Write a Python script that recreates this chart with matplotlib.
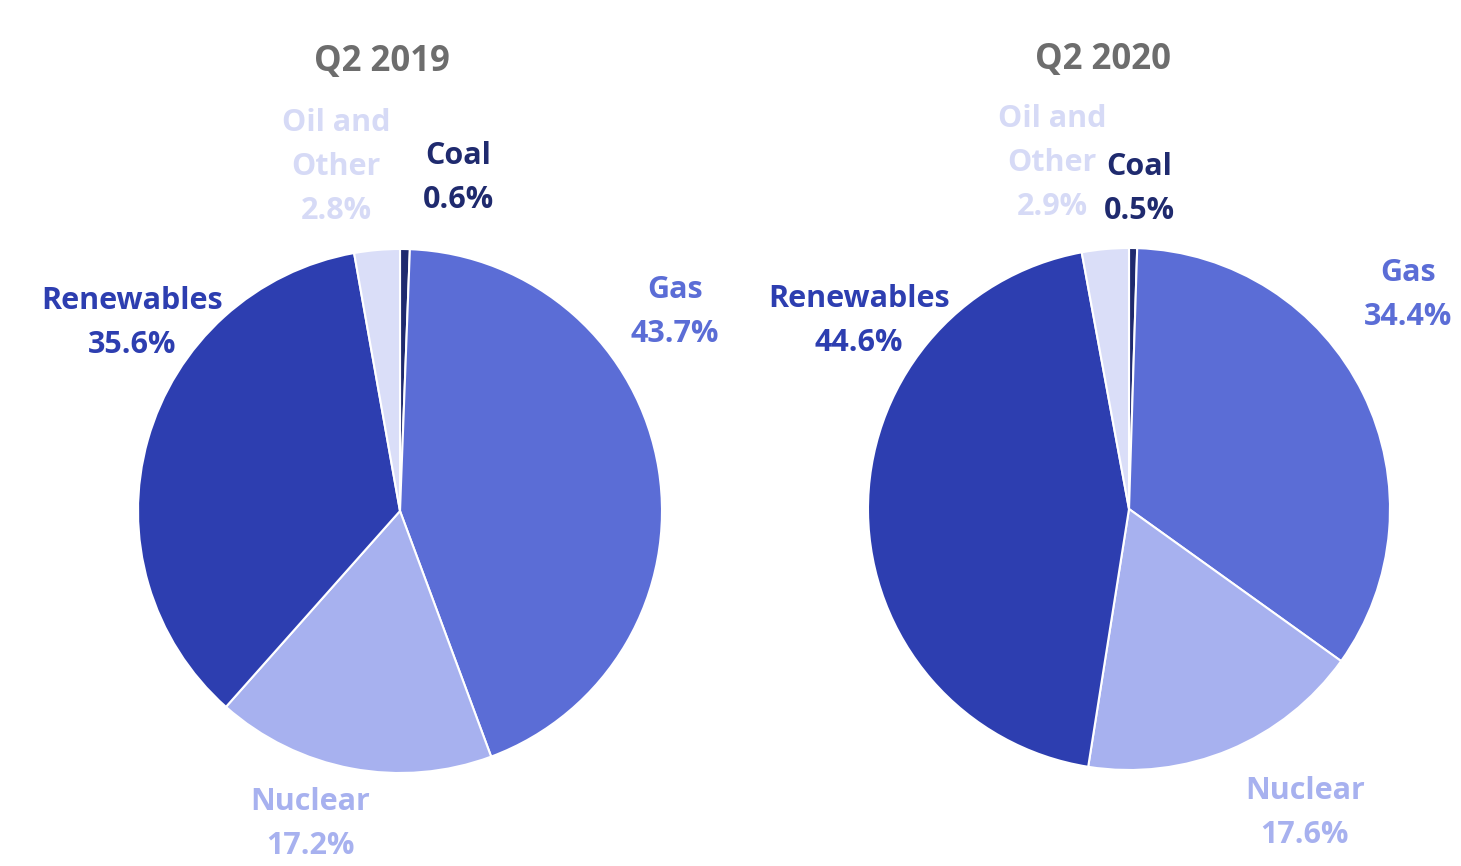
import matplotlib.pyplot as plt

# data
periods = ["Q2 2019", "Q2 2020"]
sources = ["Coal", "Gas", "Nuclear", "Renewables", "Oil and\nOther"]
shares_2019 = [0.6, 43.7, 17.2, 35.6, 2.8]
shares_2020 = [0.5, 34.4, 17.6, 44.6, 2.9]

slice_colors = ["#1f2a6e", "#5b6dd6", "#a7b1ef", "#2d3eb0", "#dadef8"]
label_colors = ["#1f2a6e", "#5b6dd6", "#a7b1ef", "#2d3eb0", "#d6daf6"]

W, H = 1461, 866
plt.rcParams['font.family'] = ['Open Sans', 'DejaVu Sans']

fig = plt.figure(figsize=(W / 100, H / 100), dpi=100)
ax = fig.add_axes([0, 0, 1, 1])
ax.set_xlim(0, W)
ax.set_ylim(0, H)
ax.set_aspect('equal')
ax.axis('off')

# layout in pixel space (y measured from top)
pies = [
    dict(center=(400, 511), radius=262, title=(382, 62),
         labels=[(458, 178), (675, 312), (310, 824), (132, 323), (336, 167)]),
    dict(center=(1129, 509), radius=261, title=(1103, 60),
         labels=[(1139, 189), (1408, 295), (1305, 813), (859, 321), (1052, 163)]),
]

for period, shares, lay in zip(periods, [shares_2019, shares_2020], pies):
    cx, cy = lay['center']
    ax.pie(shares, colors=slice_colors, startangle=90, counterclock=False,
           center=(cx, H - cy), radius=lay['radius'],
           wedgeprops=dict(edgecolor='white', linewidth=1.5))
    tx, ty = lay['title']
    ax.text(tx, H - ty, period, ha='center', va='center', fontsize=25,
            fontweight='bold', color='#6d6d6d')
    for name, val, col, (lx, ly) in zip(sources, shares, label_colors, lay['labels']):
        ax.text(lx, H - ly, f"{name}\n{val:.1f}%", ha='center', va='center',
                fontsize=22, fontweight='bold', color=col, linespacing=1.6)

ax.set_xlim(0, W)
ax.set_ylim(0, H)
fig.savefig("out.png", dpi=100, facecolor='white')
